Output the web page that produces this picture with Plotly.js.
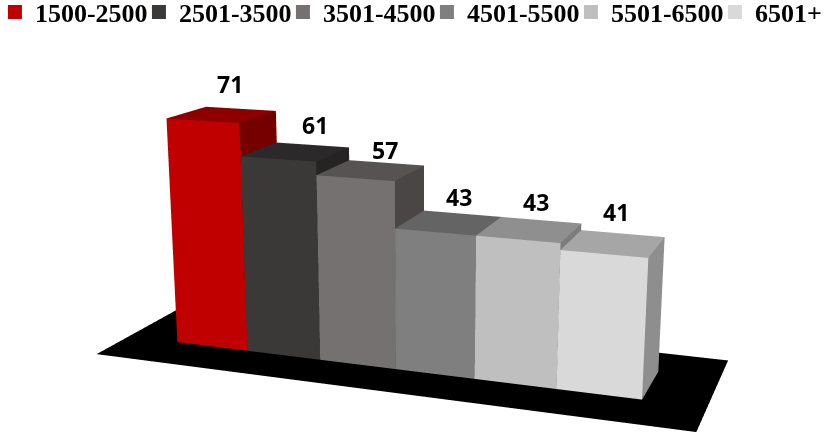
<!DOCTYPE html>
<html><head><meta charset="utf-8">
<script src="https://cdn.plot.ly/plotly-3.0.1.min.js"></script>
<style>
html,body{margin:0;padding:0;width:826px;height:439px;overflow:hidden;background:#fff;}
#chart{position:absolute;left:-479px;top:-310px;width:1800px;height:1134px;}
</style></head><body><div id="chart"></div>
<script>
// ---- data ----
const categories = ['1500-2500', '2501-3500', '3501-4500', '4501-5500', '5501-6500', '6501+'];
const values = [71, 61, 57, 43, 43, 41];
const labels = ['71', '61', '57', '43', '43', '41'];

// ---- styles ----
const frontColors = ['#C00000', '#3B3838', '#767171', '#7F7F7F', '#BFBFBF', '#D9D9D9'];
const topColors   = ['#8C0000', '#2B2929', '#575353', '#646464', '#8F8F8F', '#A6A6A6'];
const sideColors  = ['#740000', '#252323', '#4A4646', '#585858', '#7C7C7C', '#8E8E8E'];
// label nudges (pixels) to follow the original label placement
const labelDX = [-1, 11, 6, 3, 1, -2];
const labelDY = [28, 23, 17, 21, 23, 26];

const BAR_DEPTH = 1;
const FLOOR_PAD = 0.73;
const FLAT = {ambient: 1, diffuse: 0, specular: 0, roughness: 1, fresnel: 0};

const traces = [];
// legend entries
categories.forEach((c, n) => {
  traces.push({
    type: 'scatter', mode: 'markers', x: [null], y: [null], name: c,
    marker: {symbol: 'square', size: 14, color: frontColors[n], line: {width: 0}},
    hoverinfo: 'skip', showlegend: true
  });
});
// 3D columns
values.forEach((v, n) => {
  const x0 = n, x1 = n + 1, y0 = 0, y1 = BAR_DEPTH, z0 = 0, z1 = v;
  const X = [x0, x1, x1, x0, x0, x1, x1, x0];
  const Y = [y0, y0, y1, y1, y0, y0, y1, y1];
  const Z = [z0, z0, z0, z0, z1, z1, z1, z1];
  const faces = [
    [0, 1, 5, 'f'], [0, 5, 4, 'f'],
    [4, 5, 6, 't'], [4, 6, 7, 't'],
    [1, 2, 6, 's'], [1, 6, 5, 's'],
    [0, 4, 7, 's'], [0, 7, 3, 's'],
    [3, 7, 6, 't'], [3, 6, 2, 't'],
    [0, 3, 2, 'f'], [0, 2, 1, 'f']
  ];
  const col = {f: frontColors[n], t: topColors[n], s: sideColors[n]};
  traces.push({
    type: 'mesh3d', x: X, y: Y, z: Z,
    i: faces.map(f => f[0]), j: faces.map(f => f[1]), k: faces.map(f => f[2]),
    facecolor: faces.map(f => col[f[3]]),
    flatshading: true, lighting: FLAT, hoverinfo: 'skip', showlegend: false, showscale: false
  });
});
// black floor
const fx0 = -FLOOR_PAD, fx1 = values.length + FLOOR_PAD, fy0 = -FLOOR_PAD, fy1 = BAR_DEPTH + FLOOR_PAD, fz = -0.3;
traces.push({
  type: 'mesh3d', x: [fx0, fx1, fx1, fx0], y: [fy0, fy0, fy1, fy1], z: [fz, fz, fz, fz],
  i: [0, 0], j: [1, 2], k: [2, 3], facecolor: ['#000000', '#000000'],
  flatshading: true, lighting: FLAT, hoverinfo: 'skip', showlegend: false, showscale: false
});

const annotations = values.map((v, n) => ({
  x: n + 0.5, y: 0.75, z: v, text: labels[n], showarrow: false,
  xshift: labelDX[n], yshift: labelDY[n],
  font: {family: 'Open Sans, Liberation Sans, sans-serif', size: 23, color: '#000', weight: 700}
}));

const layout = {
  width: 1800, height: 1134,
  margin: {l: 0, r: 0, t: 0, b: 0},
  paper_bgcolor: '#fff', plot_bgcolor: 'rgba(0,0,0,0)',
  hovermode: false, dragmode: false,
  xaxis: {visible: false}, yaxis: {visible: false},
  showlegend: true,
  legend: {
    orientation: 'h', x: 0.2633, xanchor: 'left', y: 0.7160, yanchor: 'middle',
    entrywidth: 99, bgcolor: 'rgba(0,0,0,0)',
    font: {family: 'Liberation Serif, Times New Roman, serif', size: 26, color: '#000', weight: 'bold'}
  },
  scene: {
    domain: {x: [0, 1], y: [0, 1]},
    xaxis: {visible: false, range: [-0.8, 6.8]},
    yaxis: {visible: false, range: [-0.8, 1.8]},
    zaxis: {visible: false, range: [-1, 79]},
    aspectmode: 'manual', aspectratio: {x: 1, y: 0.3421, z: 0.4284},
    bgcolor: 'rgba(0,0,0,0)',
    camera: {
      eye: {x: 0.7418, y: -1.9864, z: 0.5274},
      center: {x: -0.0214, y: 0.1104, z: -0.0704},
      up: {x: 0, y: 0, z: 1},
      projection: {type: 'perspective'}
    },
    annotations: annotations
  }
};

Plotly.newPlot('chart', traces, layout, {displayModeBar: false, scrollZoom: false, showTips: false});
</script></body></html>
